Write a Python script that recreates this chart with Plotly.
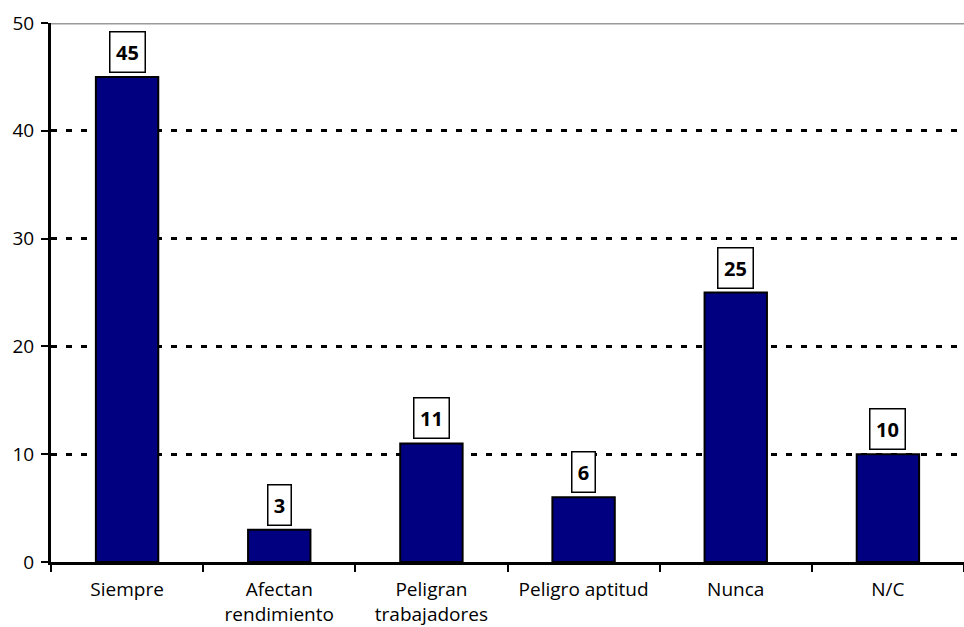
import plotly.graph_objects as go

# Survey answers and their counts
categories = ["Siempre", "Afectan<br>rendimiento", "Peligran<br>trabajadores",
              "Peligro aptitud", "Nunca", "N/C"]
values = [45, 3, 11, 6, 25, 10]
y_ticks = [0, 10, 20, 30, 40, 50]

FONT = "Open Sans"

fig = go.Figure()
fig.add_trace(go.Bar(
    x=categories,
    y=values,
    width=0.41,
    marker=dict(color="#000080", line=dict(color="black", width=2)),
    hoverinfo="x+y",
))

# Boxed value labels sitting just above each bar
for cat, v in zip(categories, values):
    label = str(v)
    fig.add_annotation(
        x=cat, y=v, xref="x", yref="y",
        text=f"<b>{label}</b>",
        showarrow=False,
        yanchor="bottom", yshift=4,
        font=dict(family=FONT, size=20, color="black"),
        bgcolor="white",
        bordercolor="black", borderwidth=1.5, borderpad=1,
        width=8 + 12 * len(label), height=37,
    )

# Grey frame line along the top of the plot area
fig.add_shape(type="line", xref="paper", yref="y", x0=0, x1=1, y0=50, y1=50,
              line=dict(color="#999999", width=3), layer="below")

fig.update_layout(
    width=964, height=627,
    margin=dict(l=51, r=0, t=23, b=65),
    paper_bgcolor="white", plot_bgcolor="white",
    showlegend=False,
    bargap=0.59,
    font=dict(family=FONT, size=19, color="black"),
)
fig.update_xaxes(
    type="category",
    range=[-0.5, 5.5],
    automargin=False,
    showline=True, linecolor="black", linewidth=3,
    ticks="outside", tickson="boundaries", ticklen=7, tickwidth=2, tickcolor="black",
    showgrid=False,
    ticklabelstandoff=8,
    tickfont=dict(family=FONT, size=19),
)
fig.update_yaxes(
    range=[0, 50],
    tickvals=y_ticks,
    automargin=False,
    showline=True, linecolor="black", linewidth=3,
    ticks="outside", ticklen=7, tickwidth=2, tickcolor="black",
    showgrid=True, gridcolor="black", gridwidth=3, griddash="6px,9px",
    zeroline=False,
    ticklabelstandoff=3,
    tickfont=dict(family=FONT, size=19),
)

fig.write_html("out.html")
